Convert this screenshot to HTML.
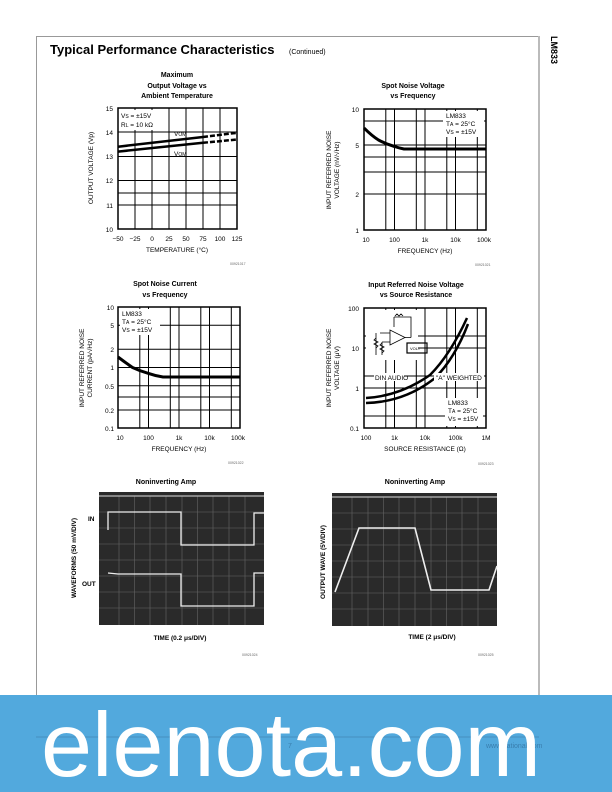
<!DOCTYPE html>
<html><head><meta charset="utf-8"><style>
html,body{margin:0;padding:0;background:#fff}
body{width:612px;height:792px;position:relative;overflow:hidden;font-family:"Liberation Sans",sans-serif}
svg{position:absolute;left:0;top:0}
</style></head><body>
<svg width="612" height="792" viewBox="0 0 612 792" font-family="Liberation Sans, sans-serif">
<rect x="36.5" y="36.5" width="502" height="700" fill="none" stroke="#999" stroke-width="1"/>
<line x1="539" y1="36" x2="539" y2="737" stroke="#bbb" stroke-width="2"/>
<text x="551" y="36" font-size="9" font-weight="bold" transform="rotate(90 551 36)">LM833</text>
<text x="50" y="54" font-size="13" font-weight="bold">Typical Performance Characteristics</text>
<text x="289" y="54" font-size="7">(Continued)</text>

<g font-size="7" font-weight="bold" text-anchor="middle">
<text x="177" y="77">Maximum</text><text x="177" y="88">Output Voltage vs</text><text x="177" y="98">Ambient Temperature</text>
<text x="413" y="88">Spot Noise Voltage</text><text x="413" y="98">vs Frequency</text>
<text x="165" y="286">Spot Noise Current</text><text x="165" y="297">vs Frequency</text>
<text x="416" y="287">Input Referred Noise Voltage</text><text x="416" y="297">vs Source Resistance</text>
<text x="166" y="484">Noninverting Amp</text><text x="415" y="484">Noninverting Amp</text>
</g>

<!-- Chart 1 -->
<g stroke="#000" fill="none" stroke-width="1">
<rect x="118" y="108" width="119" height="121" stroke-width="1.5"/>
<path d="M135 108V229M152 108V229M169 108V229M186 108V229M203 108V229M220 108V229M118 132H237M118 156.5H237M118 180.5H237M118 205H237M118 193H237"/>
</g>
<path d="M118 146.7L203 137" stroke="#000" stroke-width="2.5" fill="none"/>
<path d="M203 137L237 132.8" stroke="#000" stroke-width="2.5" stroke-dasharray="5 2" fill="none"/>
<path d="M118 151.6L203 142.8" stroke="#000" stroke-width="2.5" fill="none"/>
<path d="M203 142.8L237 139.5" stroke="#000" stroke-width="2.5" stroke-dasharray="5 2" fill="none"/>
<rect x="119" y="110" width="38" height="20" fill="#fff"/>
<g font-size="6.5">
<text x="121" y="118">V<tspan font-size="5">S</tspan> = ±15V</text>
<text x="121" y="127">R<tspan font-size="5">L</tspan> = 10 kΩ</text>
<text x="174" y="136">V<tspan font-size="5">OM</tspan></text>
<text x="174" y="156">V<tspan font-size="5">OM</tspan></text>
</g>
<g font-size="6.5" text-anchor="end"><text x="113" y="111">15</text><text x="113" y="135">14</text><text x="113" y="159">13</text><text x="113" y="183">12</text><text x="113" y="208">11</text><text x="113" y="232">10</text></g>
<g font-size="6.5" text-anchor="middle"><text x="118" y="241">−50</text><text x="135" y="241">−25</text><text x="152" y="241">0</text><text x="169" y="241">25</text><text x="186" y="241">50</text><text x="203" y="241">75</text><text x="220" y="241">100</text><text x="237" y="241">125</text>
<text x="177" y="252">TEMPERATURE (°C)</text></g>
<text x="93" y="168" font-size="6.5" text-anchor="middle" transform="rotate(-90 93 168)">OUTPUT VOLTAGE (Vp)</text>
<text x="230" y="265" font-size="3.5" fill="#666">00921017</text>

<!-- Chart 2 -->
<g stroke="#000" fill="none" stroke-width="1">
<rect x="364" y="109" width="122" height="121" stroke-width="1.5"/>
<path d="M394.5 109V230M425 109V230M455.5 109V230M385.8 109V230M416.3 109V230M446.8 109V230M477.3 109V230M364 194H486M364 145H486M364 157H486M364 172H486M364 121H486"/>
</g>
<path d="M364 128Q372 136 378.5 140Q386 144 394.5 146.5Q399 148 404 149L486 149" stroke="#000" stroke-width="3" fill="none"/>
<rect x="443" y="111" width="41" height="26" fill="#fff"/>
<g font-size="6.5"><text x="446" y="118">LM833</text><text x="446" y="126">T<tspan font-size="5">A</tspan> = 25°C</text><text x="446" y="134">V<tspan font-size="5">S</tspan> = ±15V</text></g>
<g font-size="6.5" text-anchor="end"><text x="359" y="112">10</text><text x="359" y="148">5</text><text x="359" y="197">2</text><text x="359" y="233">1</text></g>
<g font-size="6.5" text-anchor="middle"><text x="366" y="242">10</text><text x="394.5" y="242">100</text><text x="425" y="242">1k</text><text x="455.5" y="242">10k</text><text x="484" y="242">100k</text>
<text x="425" y="253">FREQUENCY (Hz)</text></g>
<text x="331" y="170" font-size="6.5" text-anchor="middle" transform="rotate(-90 331 170)">INPUT REFERRED NOISE</text>
<text x="339" y="170" font-size="6.5" text-anchor="middle" transform="rotate(-90 339 170)">VOLTAGE (nV/√Hz)</text>
<text x="475" y="266" font-size="3.5" fill="#666">00921021</text>

<!-- Chart 3 -->
<g stroke="#000" fill="none" stroke-width="1">
<rect x="118" y="307" width="122" height="121" stroke-width="1.5"/>
<path d="M148.5 307V428M179 307V428M209.5 307V428M139.8 307V428M170.3 307V428M200.8 307V428M231.3 307V428M118 367.5H240M118 349.3H240M118 325.2H240M118 385.7H240M118 410H240M118 397H240"/>
</g>
<path d="M118 357Q126 363 132.5 367.5Q140 371 148.5 373.4Q156 376 163 377L240 377" stroke="#000" stroke-width="3" fill="none"/>
<rect x="120" y="309" width="40" height="26" fill="#fff"/>
<g font-size="6.5"><text x="122" y="316">LM833</text><text x="122" y="324">T<tspan font-size="5">A</tspan> = 25°C</text><text x="122" y="332">V<tspan font-size="5">S</tspan> = ±15V</text></g>
<g font-size="6.5" text-anchor="end"><text x="114" y="310">10</text><text x="114" y="328">5</text><text x="114" y="352">2</text><text x="114" y="370">1</text><text x="114" y="389">0.5</text><text x="114" y="413">0.2</text><text x="114" y="431">0.1</text></g>
<g font-size="6.5" text-anchor="middle"><text x="120" y="440">10</text><text x="148.5" y="440">100</text><text x="179" y="440">1k</text><text x="209.5" y="440">10k</text><text x="238" y="440">100k</text>
<text x="179" y="451">FREQUENCY (Hz)</text></g>
<text x="84" y="368" font-size="6.5" text-anchor="middle" transform="rotate(-90 84 368)">INPUT REFERRED NOISE</text>
<text x="92" y="368" font-size="6.5" text-anchor="middle" transform="rotate(-90 92 368)">CURRENT (pA/√Hz)</text>
<text x="228" y="464" font-size="3.5" fill="#666">00921022</text>

<!-- Chart 4 -->
<g stroke="#000" fill="none" stroke-width="1">
<rect x="364" y="308" width="122" height="120" stroke-width="1.5"/>
<path d="M394.5 308V428M425 308V428M455.5 308V428M385.8 308V428M416.3 308V428M446.8 308V428M477.3 308V428M364 348H486M364 388H486M364 336H486M364 376H486M364 416H486"/>
</g>
<rect x="366" y="310" width="52" height="50" fill="#fff"/>
<g stroke="#000" fill="none" stroke-width="0.8">
<path d="M390 330L390 345L405 337.5Z"/><path d="M380 333H390M405 337.5H411M394 317H411V337.5M394 317V327M390 342H382M376 333V350M382 342V350M376 350v5M382 350v5"/>
<path d="M395 316l2-2 2 2 2-2 2 2"/><rect x="407" y="343" width="20" height="10" stroke-width="1.2"/>
<path d="M376 338l-2 2 4 2-4 2 4 2-2 2M382 343l-2 2 4 2-4 2 4 2-2 2"/>
</g>
<text x="410" y="350" font-size="4">VOLT</text>
<path d="M366 398Q400 396 430 375Q450 355 467 318" stroke="#000" stroke-width="2.5" fill="none"/>
<path d="M366 403Q405 402 435 378Q455 358 468 324" stroke="#000" stroke-width="2.5" fill="none"/>
<rect x="374" y="373" width="30" height="8" fill="#fff"/><rect x="434" y="373" width="50" height="8" fill="#fff"/>
<rect x="445" y="398" width="38" height="28" fill="#fff"/>
<g font-size="6.5"><text x="375" y="380">DIN AUDIO</text><text x="436" y="380">"A" WEIGHTED</text>
<text x="448" y="405">LM833</text><text x="448" y="413">T<tspan font-size="5">A</tspan> = 25°C</text><text x="448" y="421">V<tspan font-size="5">S</tspan> = ±15V</text></g>
<g font-size="6.5" text-anchor="end"><text x="359" y="311">100</text><text x="359" y="351">10</text><text x="359" y="391">1</text><text x="359" y="431">0.1</text></g>
<g font-size="6.5" text-anchor="middle"><text x="366" y="440">100</text><text x="394.5" y="440">1k</text><text x="425" y="440">10k</text><text x="455.5" y="440">100k</text><text x="486" y="440">1M</text>
<text x="425" y="451">SOURCE RESISTANCE (Ω)</text></g>
<text x="331" y="368" font-size="6.5" text-anchor="middle" transform="rotate(-90 331 368)">INPUT REFERRED NOISE</text>
<text x="339" y="368" font-size="6.5" text-anchor="middle" transform="rotate(-90 339 368)">VOLTAGE (μV)</text>
<text x="478" y="465" font-size="3.5" fill="#666">00921023</text>

<!-- Scope 1 -->
<rect x="99" y="492" width="165" height="133" fill="#2a2a2a"/>
<g stroke="#666" stroke-width="0.6" fill="none">
<path d="M119 496V625M134.5 496V625M150 496V625M166 496V625M182 496V625M197.5 496V625M213 496V625M229 496V625M245 496V625M99 512H264M99 528H264M99 544H264M99 560H264M99 576H264M99 592H264M99 608H264"/>
</g>
<line x1="99" y1="496" x2="264" y2="496" stroke="#bbb" stroke-width="1.2"/>
<g stroke="#eee" stroke-width="1.3" fill="none">
<path d="M108 530V512H181V545H254V513H264"/>
<path d="M108 573L118 574H181V606H254V573H264"/>
</g>
<g font-size="6.5" font-weight="bold"><text x="88" y="521">IN</text><text x="82" y="586">OUT</text></g>
<text x="76" y="558" font-size="6.5" font-weight="bold" text-anchor="middle" transform="rotate(-90 76 558)">WAVEFORMS (50 mV/DIV)</text>
<text x="180" y="640" font-size="6.5" font-weight="bold" text-anchor="middle">TIME (0.2 μs/DIV)</text>
<text x="242" y="656" font-size="3.5" fill="#666">00921024</text>

<!-- Scope 2 -->
<rect x="332" y="493" width="165" height="133" fill="#2a2a2a"/>
<g stroke="#666" stroke-width="0.6" fill="none">
<path d="M352 497V626M368 497V626M383.5 497V626M399 497V626M415 497V626M431 497V626M446.5 497V626M462 497V626M478 497V626M332 513H497M332 529H497M332 545H497M332 561H497M332 577H497M332 593H497M332 609H497"/>
</g>
<line x1="332" y1="497" x2="497" y2="497" stroke="#bbb" stroke-width="1.2"/>
<path d="M335 592L359 528H415L431 590H489L497 566" stroke="#eee" stroke-width="1.6" fill="none"/>
<text x="325" y="562" font-size="6.5" font-weight="bold" text-anchor="middle" transform="rotate(-90 325 562)">OUTPUT WAVE (5V/DIV)</text>
<text x="432" y="639" font-size="6.5" font-weight="bold" text-anchor="middle">TIME (2 μs/DIV)</text>
<text x="478" y="656" font-size="3.5" fill="#666">00921025</text>

<!-- banner -->
<rect x="0" y="695" width="612" height="97" fill="#52a9dd"/>
<line x1="36" y1="737" x2="539" y2="737" stroke="#4590c0" stroke-width="1"/>
<text x="288" y="748" font-size="7" fill="#3a7fae">7</text>
<text x="486" y="748" font-size="7" fill="#3a7fae">www.national.com</text>
<text x="291" y="776" font-size="91" fill="#fff" text-anchor="middle" textLength="500" lengthAdjust="spacingAndGlyphs" font-family="Liberation Sans, sans-serif">elenota.com</text>
</svg>
</body></html>
